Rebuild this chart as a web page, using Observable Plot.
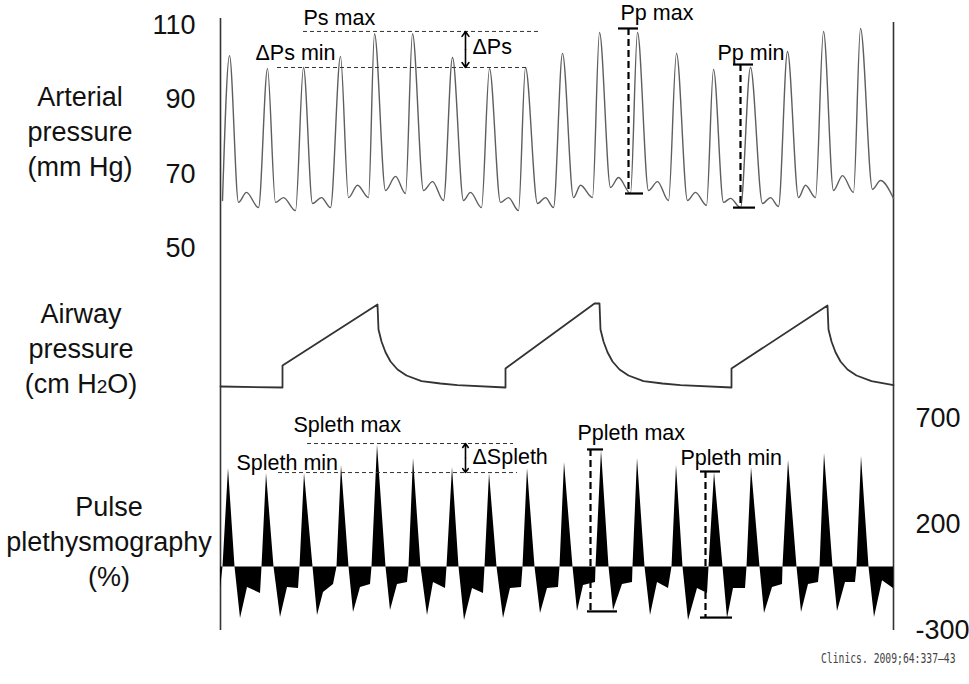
<!DOCTYPE html>
<html>
<head>
<meta charset="utf-8">
<script src="https://cdn.jsdelivr.net/npm/d3@7"></script>
<script src="https://cdn.jsdelivr.net/npm/@observablehq/plot@0.6"></script>
<style>
  html, body { margin: 0; padding: 0; background: #fff; }
  #wrap { position: relative; width: 969px; height: 684px; overflow: hidden; font-family: "Liberation Sans", Arial, sans-serif; }
  #wrap svg { position: absolute; left: 0; top: 0; }
  .side { position: absolute; text-align: center; font-size: 27px; line-height: 35px; color: #111; }
  .caption { position: absolute; left: 821px; top: 650px; white-space: nowrap; font-family: "DejaVu Sans Mono", monospace; font-size: 14.5px; color: #444; transform-origin: 0 0; transform: scaleX(0.67); }
</style>
</head>
<body>
<div id="wrap">
  <div class="side" style="left:0;top:80px;width:160px;">Arterial<br>pressure<br>(mm Hg)</div>
  <div class="side" style="left:0;top:297px;width:162px;">Airway<br>pressure<br>(cm H<span style="font-size:19px">2</span>O)</div>
  <div class="side" style="left:0;top:490px;width:218px;">Pulse<br>plethysmography<br>(%)</div>
  <div class="caption">Clinics. 2009;64:337–43</div>
</div>
<script>
// ---- time (s) shared by all traces ----
const timeDomain = [0, 13.46];

// ---- arterial pressure (mm Hg): key points of each beat ----
const artTime = [0.04,
  0.18,0.36,0.52,0.76, 0.94,1.10,1.26,1.50, 1.66,1.84,2.02,2.20, 2.40,2.56,2.74,2.96,
  3.08,3.30,3.50,3.70, 3.84,4.06,4.24,4.46, 4.64,4.86,5.00,5.22, 5.38,5.60,5.76,5.96,
  6.10,6.34,6.50,6.66, 6.84,7.06,7.20,7.44, 7.58,7.80,7.96,8.20, 8.34,8.56,8.74,8.96,
  9.12,9.34,9.50,9.72, 9.86,10.06,10.20,10.40, 10.60,10.84,11.00,11.16, 11.34,11.56,11.70,11.90,
  12.06,12.26,12.44,12.66, 12.80,13.04,13.20,13.46];
const artValue = [62.9,
  101.9,62.4,65.1,61.0, 98.4,62.4,63.7,60.2, 98.7,62.1,63.7,61.0, 101.7,63.7,67.0,63.7,
  107.8,65.6,69.4,64.8, 107.8,65.6,68.0,62.9, 101.4,62.9,65.1,61.0, 98.4,62.4,63.7,60.2,
  98.7,62.1,63.7,61.0, 102.5,63.7,67.0,63.7, 108.1,66.4,69.1,64.8, 108.1,65.6,68.0,62.9,
  102.5,62.9,65.1,61.6, 98.2,62.4,63.5,61.0, 98.7,62.1,63.7,61.3, 103.0,63.7,67.0,63.7,
  108.4,65.6,69.6,65.1, 109.2,65.9,68.3,63.5];
const artTicks = [50, 70, 90, 110];

// ---- airway pressure (cm H2O) ----
const airTime = [0,1.24,1.24,3.14,3.16,3.22,3.30,3.40,3.54,3.72,4.02,4.40,4.74,
  5.70,5.70,7.48,7.58,7.60,7.66,7.74,7.84,7.98,8.16,8.46,8.84,9.20,
  10.22,10.22,12.14,12.16,12.22,12.30,12.40,12.54,12.72,13.02,13.46];
const airValue = [5.25,5.0,10.5,25.75,19.5,16.5,13.8,11.5,9.5,8.0,6.6,6.0,5.6,
  5.0,9.75,26,26,19.5,16.5,13.8,11.5,9.5,8.0,6.6,6.0,5.6,
  5.0,9.75,25.5,19.5,16.5,13.8,11.5,9.5,8.0,6.6,5.6];

// ---- pulse plethysmography (%) ----
const plethTime = [0,
  0.05,0.16,0.29,0.40,0.54,0.80, 0.83,0.92,1.07,1.20,1.34,1.56,
  1.59,1.68,1.85,1.94,2.06,2.26, 2.33,2.42,2.57,2.66,2.80,3.00,
  3.03,3.14,3.31,3.40,3.54,3.74, 3.77,3.86,4.01,4.14,4.26,4.50,
  4.53,4.64,4.77,4.88,5.04,5.26, 5.29,5.38,5.53,5.66,5.80,6.02,
  6.05,6.14,6.29,6.40,6.54,6.76, 6.79,6.88,7.05,7.14,7.26,7.50,
  7.51,7.62,7.77,7.86,8.04,8.24, 8.25,8.34,8.49,8.60,8.74,8.96,
  9.03,9.12,9.25,9.36,9.54,9.74, 9.77,9.88,10.05,10.14,10.26,10.50,
  10.53,10.62,10.79,10.88,11.04,11.24, 11.25,11.36,11.53,11.62,11.76,11.96,
  11.99,12.08,12.25,12.34,12.50,12.70, 12.73,12.82,12.97,13.08,13.24,13.46];
const plethValue = [-102,
  0,464,0,-243,-97,-125, 0,441,0,-239,-97,-102,
  0,441,0,-229,-121,-83, 0,478,0,-215,-97,-83,
  0,575,0,-206,-83,-74, 0,511,0,-229,-74,-102,
  0,469,0,-253,-102,-125, 0,441,0,-243,-102,-97,
  0,464,0,-220,-102,-97, 0,492,0,-210,-88,-74,
  0,549,0,-206,-83,-74, 0,511,0,-229,-74,-102,
  0,478,0,-253,-102,-125, 0,445,0,-243,-102,-102,
  0,469,0,-220,-97,-83, 0,502,0,-215,-83,-74,
  0,535,0,-210,-74,-74, 0,521,0,-239,-65,-102];
const plethTicks = [-300, 200, 700];

// ---- annotations (data units) ----
const artLevels = [{y:108.4, x1:1.66, x2:6.36}, {y:98.7, x1:1.14, x2:6.16}];
const artDelta = {x:4.9, top:108.4, bottom:98.7};
const artBars = [
  {x:8.16, top:109.2, bottom:64.8, tx1:7.96, tx2:8.36, bx1:8.10, bx2:8.46},
  {x:10.40, top:99.5, bottom:61.0, tx1:10.26, tx2:10.66, bx1:10.26, bx2:10.70}];
const artLabels = [
  {x:1.66, y:111.9, text:"Ps max"}, {x:0.70, y:102.5, text:"ΔPs min"},
  {x:5.04, y:104.1, text:"ΔPs"}, {x:8.00, y:113.2, text:"Pp max"}, {x:9.94, y:102.7, text:"Pp min"}];

const plethLevels = [{y:582, x1:1.74, x2:5.86}, {y:445, x1:1.16, x2:5.94}];
const plethDelta = {x:4.9, top:582, bottom:445};
const plethBars = [
  {x:7.40, top:554, bottom:-210, tx1:7.34, tx2:7.66, bx1:7.34, bx2:7.94},
  {x:9.70, top:450, bottom:-239, tx1:9.60, tx2:10.00, bx1:9.60, bx2:10.24}];
const plethLabels = [
  {x:1.46, y:667, text:"Spleth max"}, {x:0.32, y:488, text:"Spleth min"},
  {x:5.04, y:516, text:"ΔSpleth"}, {x:7.14, y:629, text:"Ppleth max"}, {x:9.20, y:511, text:"Ppleth min"}];

// ---- build ----
const artData = artTime.map((t, i) => ({t, v: artValue[i]}));
const airData = airTime.map((t, i) => ({t, v: airValue[i]}));
const plethData = plethTime.map((t, i) => ({t, v: plethValue[i]}));

const base = {
  width: 969, height: 684,
  marginLeft: 220, marginRight: 76, marginTop: 0, marginBottom: 0,
  style: {background: "transparent", overflow: "visible", fontFamily: "'Liberation Sans', Arial, sans-serif"},
  x: {domain: timeDomain, range: [220, 893], axis: null}
};
const FS = 21.5;

function annotationMarks(levels, delta, bars, labels) {
  const arrowData = [{x: delta.x, y1: (delta.top + delta.bottom) / 2, y2: delta.top},
                     {x: delta.x, y1: (delta.top + delta.bottom) / 2, y2: delta.bottom}];
  return [
    Plot.ruleY(levels, {y: "y", x1: "x1", x2: "x2", stroke: "#333", strokeWidth: 1, strokeDasharray: "4,3"}),
    Plot.arrow(arrowData, {x1: "x", x2: "x", y1: "y1", y2: "y2", stroke: "#000", strokeWidth: 1.6, headLength: 7, headAngle: 70}),
    Plot.ruleX(bars, {x: "x", y1: "top", y2: "bottom", stroke: "#000", strokeWidth: 2.2, strokeDasharray: "7,4"}),
    Plot.ruleY(bars, {y: "top", x1: "tx1", x2: "tx2", stroke: "#000", strokeWidth: 2.2}),
    Plot.ruleY(bars, {y: "bottom", x1: "bx1", x2: "bx2", stroke: "#000", strokeWidth: 2.2}),
    Plot.text(labels, {x: "x", y: "y", text: "text", textAnchor: "start", fontSize: FS, fill: "#000"})
  ];
}

const artPlot = Plot.plot({
  ...base,
  y: {domain: [50, 110], range: [248, 25]},
  marks: [
    Plot.axisY(artTicks, {anchor: "left", tickSize: 0, tickPadding: 25, fontSize: 27, fill: "#111", label: null}),
    Plot.line(artData, {x: "t", y: "v", stroke: "#5e5e5e", strokeWidth: 1.4, curve: "monotone-x"}),
    ...annotationMarks(artLevels, artDelta, artBars, artLabels)
  ]
});

const airPlot = Plot.plot({
  ...base,
  y: {domain: [0, 30], range: [407, 287], axis: null},
  marks: [
    Plot.line(airData, {x: "t", y: "v", stroke: "#333", strokeWidth: 1.8})
  ]
});

const plethPlot = Plot.plot({
  ...base,
  y: {domain: [-300, 700], range: [630, 418]},
  marks: [
    Plot.axisY(plethTicks, {anchor: "right", tickSize: 0, tickPadding: 22, fontSize: 27, fill: "#111", label: null, tickFormat: d => String(d)}),
    Plot.areaY(plethData, {x: "t", y: "v", fill: "#000"}),
    ...annotationMarks(plethLevels, plethDelta, plethBars, plethLabels)
  ]
});

const framePlot = Plot.plot({
  ...base,
  y: {domain: [0, 1], range: [630, 18], axis: null},
  marks: [
    Plot.ruleX([{x: timeDomain[0], top: 1}, {x: timeDomain[1], top: 0.9935}], {x: "x", y1: 0, y2: "top", stroke: "#333", strokeWidth: 1.6})
  ]
});

const wrap = document.getElementById("wrap");
[framePlot, airPlot, artPlot, plethPlot].forEach(p => wrap.appendChild(p));
</script>
</body>
</html>
